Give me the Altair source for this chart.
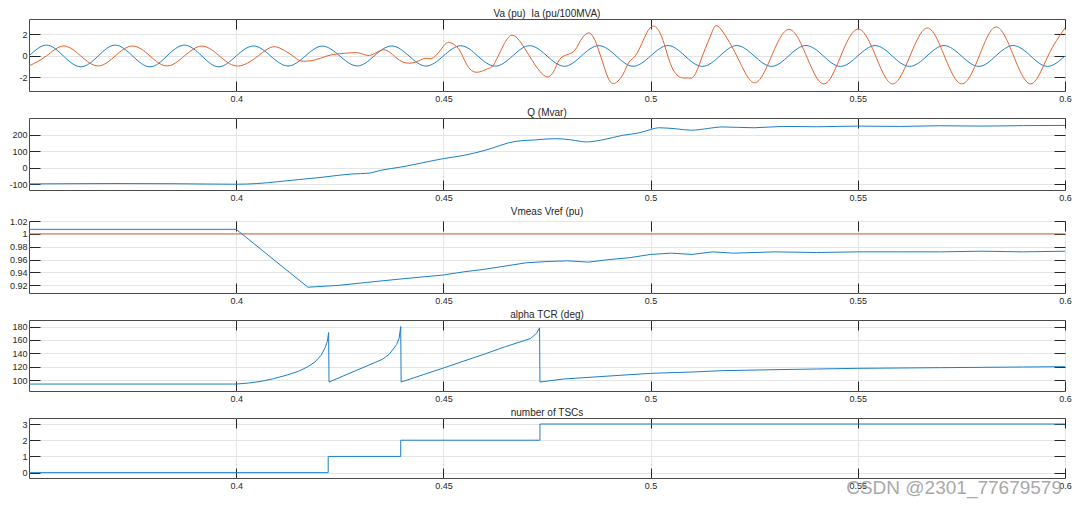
import altair as alt
import pandas as pd

# ---------------- data ----------------
va_t = [0.3500, 0.3542, 0.3583, 0.3625, 0.3667, 0.3708, 0.3750, 0.3792, 0.3833, 0.3875,
        0.3917, 0.3958, 0.4000, 0.4042, 0.4083, 0.4125, 0.4167, 0.4208, 0.4250, 0.4292,
        0.4333, 0.4375, 0.4417, 0.4458, 0.4500, 0.4542, 0.4583, 0.4625, 0.4667, 0.4708,
        0.4750, 0.4792, 0.4833, 0.4875, 0.4917, 0.4958, 0.5000, 0.5042, 0.5083, 0.5125,
        0.5167, 0.5208, 0.5250, 0.5292, 0.5333, 0.5375, 0.5417, 0.5458, 0.5500, 0.5542,
        0.5583, 0.5625, 0.5667, 0.5708, 0.5750, 0.5792, 0.5833, 0.5875, 0.5917, 0.5958,
        0.6000]
va_v = [0, 1.01, 0, -1.01, 0, 1.01, 0, -1.01, 0, 1.01,
        0, -1.01, 0, 0.93, 0, -0.93, 0, 0.92, 0, -0.93,
        0, 0.93, 0, -0.94, 0, 0.95, 0, -0.95, 0, 0.96,
        0, -0.96, 0, 0.96, 0, -0.96, 0, 0.97, 0, -0.97,
        0, 0.97, 0, -0.97, 0, 0.97, 0, -0.97, 0, 0.97,
        0, -0.97, 0, 0.97, 0, -0.97, 0, 0.97, 0, -0.97,
        0]

ia_t = [0.3500, 0.3542, 0.3583, 0.3625, 0.3667, 0.3708, 0.3750, 0.3792, 0.3833, 0.3875,
        0.3917, 0.3958, 0.4000, 0.4044, 0.4080, 0.4108, 0.4140, 0.4156, 0.4187, 0.4219,
        0.4250, 0.4280, 0.4300, 0.4322, 0.4345, 0.4360, 0.4377, 0.4401, 0.4432, 0.4456,
        0.4476, 0.4500, 0.4516, 0.4536, 0.4551, 0.4575, 0.4607, 0.4623, 0.4647, 0.4666,
        0.4686, 0.4714, 0.4750, 0.4773, 0.4789, 0.4813, 0.4829, 0.4849, 0.4869, 0.4892,
        0.4910, 0.4932, 0.4948, 0.4964, 0.4984, 0.5004, 0.5027, 0.5051, 0.5075, 0.5090,
        0.5106, 0.5126, 0.5148, 0.5166, 0.5208, 0.5251, 0.5292, 0.5334, 0.5376, 0.5418,
        0.5459, 0.5501, 0.5543, 0.5584, 0.5626, 0.5668, 0.5709, 0.5751, 0.5793, 0.5834,
        0.5876, 0.5918, 0.5959, 0.6000]
ia_v = [-0.93, 0.0, 0.93, 0.0, -0.93, 0.0, 0.93, 0.0, -0.93, 0.0,
        0.92, 0.05, -0.93, -0.25, 0.74, 0.68, -0.09, -0.46, -0.40, 0.0,
        0.21, 0.30, 0.25, 0.05, 0.46, 0.55, 0.15, -0.55, -0.59, -0.22,
        -0.16, 0.90, 1.25, 0.70, -0.40, -1.49, -1.18, -0.71, 1.15, 1.92,
        1.30, -0.40, -1.95, -0.87, -0.03, 0.37, 1.30, 2.14, 1.15, -1.49,
        -2.57, -1.80, -0.56, 0.06, 1.60, 2.76, 1.77, -1.02, -2.02, -2.05,
        -1.80, 0.10, 2.20, 2.65, 0.0, -2.50, 0.0, 2.48, 0.0, -2.60,
        0.0, 2.51, 0.0, -2.60, 0.0, 2.60, 0.0, -2.60, 0.0, 2.70,
        0.0, -2.60, 0.0, 2.60]

q_t = [0.35, 0.37, 0.385, 0.40, 0.405, 0.41, 0.415, 0.42, 0.425, 0.428, 0.432, 0.435,
       0.44, 0.445, 0.45, 0.455, 0.46, 0.4675, 0.472, 0.477, 0.481, 0.4845, 0.489, 0.4932,
       0.497, 0.5003, 0.5019, 0.506, 0.5098, 0.514, 0.517, 0.525, 0.532, 0.54, 0.55, 0.56,
       0.57, 0.58, 0.59, 0.60]
q_v = [-98, -96, -97, -100, -96, -85, -72, -60, -45, -38, -33, -15,
       5, 30, 55, 75, 105, 160, 168, 176, 168, 156, 172, 196,
       210, 233, 242, 236, 227, 238, 247, 242, 250, 248, 252, 250,
       254, 252, 255, 256]

vm_t = [0.35, 0.40, 0.4173, 0.425, 0.4315, 0.44, 0.445, 0.45, 0.455, 0.46, 0.465, 0.47,
        0.475, 0.48, 0.485, 0.49, 0.495, 0.50, 0.505, 0.51, 0.515, 0.52, 0.53, 0.54,
        0.55, 0.56, 0.57, 0.58, 0.59, 0.60]
vm_v = [1.007, 1.007, 0.917, 0.920, 0.9245, 0.930, 0.933, 0.936, 0.941, 0.945, 0.950, 0.955,
        0.957, 0.958, 0.956, 0.960, 0.963, 0.968, 0.970, 0.968, 0.972, 0.970, 0.972, 0.971,
        0.972, 0.972, 0.972, 0.973, 0.972, 0.973]
vref_t = [0.35, 0.60]
vref_v = [1.0, 1.0]

al_t = [0.35, 0.40, 0.403, 0.406, 0.409, 0.412, 0.415, 0.4173, 0.419, 0.4205,
        0.4215, 0.422, 0.4223, 0.4224, 0.4315, 0.4353, 0.437, 0.4387, 0.4393, 0.4397,
        0.4398, 0.45, 0.46, 0.465, 0.4710, 0.4725, 0.4732, 0.4733, 0.4789, 0.49,
        0.50, 0.51, 0.5172, 0.53, 0.54, 0.55, 0.56, 0.57, 0.58, 0.59, 0.60]
al_v = [94, 94, 95.5, 98, 102, 107, 113, 120, 127, 137,
        149, 158, 171, 97, 121, 131, 139, 153, 162, 180,
        97, 118, 139, 150, 162, 170, 178, 97, 101.5, 106,
        110, 112, 114, 115.5, 116.5, 117.5, 118, 118.5, 119, 119.5, 120]

tsc_t = [0.35, 0.4222, 0.4397, 0.4733, 0.60]
tsc_v = [0, 1, 2, 3, 3]

x_ticks = [0.4, 0.45, 0.5, 0.55, 0.6]
titles = ["Va (pu) \u00a0Ia (pu/100MVA)", "Q (Mvar)", "Vmeas Vref (pu)",
          "alpha TCR (deg)", "number of TSCs"]
watermark = "CSDN @2301_77679579"

# ---------------- style ----------------
BLUE = "#1a7fc7"
RED = "#e4602a"
FONT = "Liberation Sans"
TXT = "#262626"
GRID = "#e4e4e4"
W = 1036
XDOM = [0.35, 0.6]
LABEL = "'' + datum.value"


def df(t, v):
    return pd.DataFrame({"t": t, "v": v})


def panel(title, series, ydom, yticks, h, extra=None):
    xs = alt.Scale(domain=XDOM, nice=False, zero=False)
    ys = alt.Scale(domain=ydom, nice=False, zero=False)
    ax_bottom = alt.Axis(orient="bottom", values=x_ticks, labelExpr=LABEL, grid=True,
                         gridColor=GRID, domain=False, tickSize=10, offset=-10,
                         tickColor=TXT, labelFontSize=9, labelPadding=3,
                         labelColor=TXT, labelFont=FONT, labelFlush=False, title=None)
    ax_left = alt.Axis(orient="left", values=yticks, labelExpr=LABEL, grid=True,
                       gridColor=GRID, domain=False, tickSize=11, offset=-11,
                       tickColor=TXT, labelFontSize=9, labelPadding=2,
                       labelColor=TXT, labelFont=FONT, title=None)
    ax_top = alt.Axis(orient="top", values=x_ticks, labels=False, grid=False,
                      domain=False, tickSize=10, offset=-10, tickColor=TXT, title=None)
    ax_right = alt.Axis(orient="right", values=yticks, labels=False, grid=False,
                        domain=False, tickSize=11, offset=-11, tickColor=TXT, title=None)
    layers = []
    for i, (d, color, ip) in enumerate(series):
        layers.append(
            alt.Chart(d).mark_line(color=color, strokeWidth=1.0, interpolate=ip, clip=True)
            .encode(x=alt.X("t:Q", scale=xs, axis=ax_bottom if i == 0 else None),
                    y=alt.Y("v:Q", scale=ys, axis=ax_left if i == 0 else None))
        )
    ghost = (alt.Chart(series[0][0]).mark_line(strokeOpacity=0)
             .encode(x=alt.X("t:Q", scale=xs, axis=ax_top),
                     y=alt.Y("v:Q", scale=ys, axis=ax_right)))
    layers.append(ghost)
    if extra is not None:
        layers.append(extra)
    return (alt.layer(*layers)
            .resolve_axis(x="independent", y="independent")
            .properties(width=W, height=h,
                        title=alt.TitleParams(title, fontSize=10, font=FONT,
                                              fontWeight="normal", color=TXT,
                                              offset=0, anchor="middle")))


p1 = panel(titles[0], [(df(va_t, va_v), BLUE, "natural"), (df(ia_t, ia_v), RED, "natural")],
           [-3.26, 3.44], [-2, 0, 2], 72)
p2 = panel(titles[1], [(df(q_t, q_v), BLUE, "monotone")], [-135, 301], [-100, 0, 100, 200], 72)
p3 = panel(titles[2], [(df(vm_t, vm_v), BLUE, "linear"), (df(vref_t, vref_v), RED, "linear")],
           [0.908, 1.02], [0.92, 0.94, 0.96, 0.98, 1, 1.02], 72)
p4 = panel(titles[3], [(df(al_t, al_v), BLUE, "linear")], [83.6, 189.8],
           [100, 120, 140, 160, 180], 71)

wm = (alt.Chart(pd.DataFrame({"s": [watermark]}))
      .mark_text(align="right", baseline="middle", fontSize=19, font=FONT,
                 color="#9a9a9a", opacity=0.85)
      .encode(x=alt.value(W - 3), y=alt.value(70), text="s:N"))
p5 = panel(titles[4], [(df(tsc_t, tsc_v), BLUE, "step-after")], [-0.33, 3.37],
           [0, 1, 2, 3], 60, extra=wm)

chart = (alt.vconcat(p1, p2, p3, p4, p5, spacing=3)
         .properties(padding={"left": 0, "top": 0, "right": 0, "bottom": 0},
                     background="white")
         .configure_view(stroke="#4a4a4a", strokeWidth=1))

chart.save("out.html", embed_options={"renderer": "svg", "actions": False})
